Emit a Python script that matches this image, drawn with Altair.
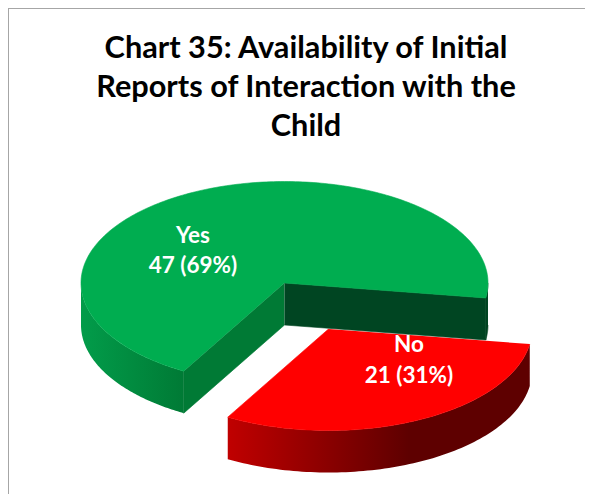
import math
import altair as alt
import pandas as pd

# ---- chart values -------------------------------------------------------
categories = ["Yes", "No"]
counts = [47, 21]
percent_labels = ["69%", "31%"]
title_lines = [
    "Chart 35: Availability of Initial",
    "Reports of Interaction with the",
    "Child",
]

# ---- layout of the tilted pie (page pixels) ------------------------------
CX, CY = 284.5, 283.0      # centre of the Yes slice top face
RX, RY = 203.5, 101.5      # ellipse radii of the top face
DEPTH = 42.0               # wall height
EXPLODE = (44.0, 46.0)     # shift of the No slice
START = 8.5                # clockwise angle where the No slice starts
W, H = 577, 486

total = sum(counts)
no_sweep = 360.0 * counts[1] / total
yes_sweep = 360.0 * counts[0] / total
no_a0, no_a1 = START, START + no_sweep
yes_a0, yes_a1 = no_a1, no_a1 + yes_sweep


def rim(a0, a1, cx, cy, n=90):
    pts = []
    for k in range(n + 1):
        a = math.radians(a0 + (a1 - a0) * k / n)
        pts.append((cx + RX * math.cos(a), cy + RY * math.sin(a)))
    return pts


def wall(a0, a1, cx, cy):
    top = rim(a0, a1, cx, cy)
    return top + [(x, y + DEPTH) for x, y in reversed(top)]


def cut(a, cx, cy):
    x, y = rim(a, a, cx, cy, 1)[0]
    return [(cx, cy), (x, y), (x, y + DEPTH), (cx, cy + DEPTH)]


x_scale = alt.Scale(domain=[8, 8 + W], range=[0, W])
y_scale = alt.Scale(domain=[8, 8 + H], range=[0, H])


def poly(points, fill):
    df = pd.DataFrame(
        [{"px": p[0], "py": p[1], "i": i} for i, p in enumerate(points)]
    )
    style = {"fill": fill, "interpolate": "linear"}
    if isinstance(fill, str):
        style.update(stroke=fill, strokeWidth=0.6)
    else:
        style.update(strokeWidth=0)
    return (
        alt.Chart(df)
        .mark_line(**style)
        .encode(
            x=alt.X("px:Q", scale=x_scale, axis=None),
            y=alt.Y("py:Q", scale=y_scale, axis=None),
            order="i:Q",
        )
    )


def hgrad(stops):
    return alt.LinearGradient(
        gradient="linear",
        x1=0, x2=1, y1=0, y2=0,
        stops=[alt.GradientStop(offset=o, color=c) for o, c in stops],
    )


GREEN = "#00AD50"
RED = "#FF0000"

nx, ny = CX + EXPLODE[0], CY + EXPLODE[1]

layers = [
    # Yes slice
    poly(wall(yes_a0, 180, CX, CY), hgrad([(0, "#029C4A"), (1, "#007A35")])),
    poly(cut(yes_a0, CX, CY), "#007A35"),
    poly(wall(360, 360 + START, CX, CY), "#004522"),
    poly(cut(START, CX, CY), "#004522"),
    poly(rim(yes_a0, yes_a1, CX, CY, 240) + [(CX, CY)], GREEN),
    # No slice
    poly(wall(no_a0, no_a1, nx, ny), hgrad([(0, "#C00000"), (0.6, "#5E0000"), (1, "#5E0000")])),
    poly(rim(no_a0, no_a1, nx, ny) + [(nx, ny)], RED),
]

# frame (left and top edges only: the rest runs off the picture)
frame_left = alt.Chart(pd.DataFrame({"v": [0]})).mark_rule(color="#A6A6A6", strokeWidth=1).encode(
    x=alt.value(0.5), y=alt.value(0), y2=alt.value(H)
)
frame_top = alt.Chart(pd.DataFrame({"v": [0]})).mark_rule(color="#A6A6A6", strokeWidth=1).encode(
    y=alt.value(0.5), x=alt.value(0), x2=alt.value(W)
)

# data labels
labels = pd.DataFrame(
    [
        {"px": 193, "py": 235.5, "t": categories[0]},
        {"px": 193, "py": 265.5, "t": f"{counts[0]} ({percent_labels[0]})"},
        {"px": 409, "py": 345, "t": categories[1]},
        {"px": 409, "py": 376, "t": f"{counts[1]} ({percent_labels[1]})"},
    ]
)
label_text = (
    alt.Chart(labels)
    .mark_text(font="Lato", fontWeight="bold", fontSize=22.5, color="#FFFFFF", align="center", baseline="middle")
    .encode(
        x=alt.X("px:Q", scale=x_scale, axis=None),
        y=alt.Y("py:Q", scale=y_scale, axis=None),
        text="t:N",
    )
)

chart = (
    alt.layer(frame_left, frame_top, *layers, label_text)
    .properties(
        width=W,
        height=H,
        padding=0,
        background="#FFFFFF",
        autosize=alt.AutoSizeParams(type="none"),
        title=alt.TitleParams(
            text=title_lines,
            font="Lato",
            fontWeight="bold",
            fontSize=30.7,
            lineHeight=39,
            color="#000000",
            anchor="middle",
            frame="group",
            baseline="alphabetic",
            offset=0,
            dy=159,
            dx=9.5,
        ),
    )
    .configure_view(stroke=None)
)

chart.save("out.html", embed_options={"renderer": "svg", "actions": False})
